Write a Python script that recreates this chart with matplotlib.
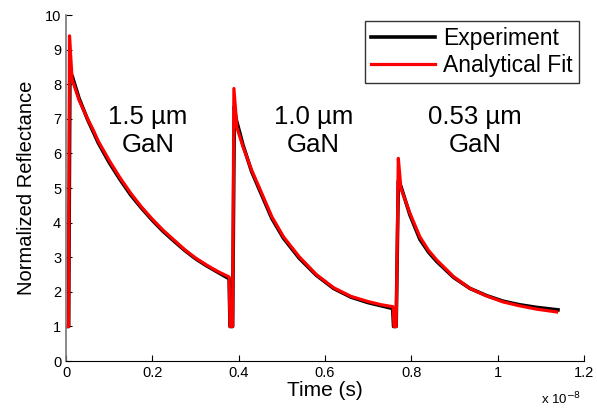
import matplotlib
matplotlib.use("Agg")
import matplotlib.pyplot as plt

plt.rcParams["font.family"] = ["Liberation Sans", "DejaVu Sans"]

# time in units of 1e-8 s
EXP_T = [0.003, 0.006, 0.009, 0.014, 0.03, 0.05, 0.075, 0.1, 0.125, 0.15, 0.175,
         0.2, 0.225, 0.25, 0.275, 0.3, 0.325, 0.35, 0.378, 0.380, 0.386,
         0.390, 0.394, 0.41, 0.43, 0.45, 0.477, 0.504, 0.54, 0.58, 0.62, 0.66,
         0.70, 0.73, 0.757, 0.759, 0.765,
         0.770, 0.776, 0.797, 0.82, 0.84, 0.859, 0.898, 0.936, 0.975, 1.013,
         1.05, 1.091, 1.14]
EXP_R = [1.0, 1.0, 8.3, 8.25, 7.6, 6.98, 6.3, 5.74, 5.25, 4.8, 4.42,
         4.07, 3.75, 3.47, 3.2, 2.96, 2.76, 2.58, 2.38, 1.0, 1.0,
         7.35, 7.0, 6.25, 5.48, 4.9, 4.12, 3.55, 2.98, 2.48, 2.1, 1.85,
         1.69, 1.6, 1.52, 1.0, 1.0,
         5.2, 5.05, 4.22, 3.52, 3.15, 2.88, 2.42, 2.1, 1.89, 1.73,
         1.63, 1.55, 1.48]

FIT_T = [0.003, 0.006, 0.008, 0.014, 0.03, 0.05, 0.063, 0.075, 0.1, 0.125, 0.15,
         0.175, 0.2, 0.225, 0.25, 0.275, 0.3, 0.325, 0.35, 0.378, 0.380, 0.386,
         0.389, 0.396, 0.41, 0.43, 0.45, 0.477, 0.504, 0.54, 0.58, 0.62, 0.66,
         0.70, 0.73, 0.758, 0.760, 0.765, 0.767,
         0.770, 0.776, 0.797, 0.82, 0.84, 0.859, 0.898, 0.936, 0.975, 1.013,
         1.05, 1.091, 1.137]
FIT_R = [1.0, 1.0, 9.4, 8.15, 7.55, 7.0, 6.68, 6.35, 5.8, 5.3, 4.85,
         4.45, 4.1, 3.78, 3.5, 3.22, 2.98, 2.78, 2.6, 2.43, 1.0, 1.0,
         7.88, 6.75, 6.2, 5.52, 4.95, 4.17, 3.59, 3.02, 2.5, 2.12, 1.87,
         1.72, 1.63, 1.57, 1.0, 1.0, 2.8,
         5.86, 5.0, 4.27, 3.59, 3.2, 2.92, 2.44, 2.1, 1.88, 1.71,
         1.6, 1.5, 1.42]

LABELS = ["1.5 \u00b5m\nGaN", "1.0 \u00b5m\nGaN", "0.53 \u00b5m\nGaN"]
LABEL_X = [0.19, 0.573, 0.948]
LABEL_Y = [6.65, 6.65, 6.65]

fig = plt.figure(figsize=(5.97, 4.08), dpi=100)
ax = fig.add_axes([0.1106, 0.115, 0.8674, 0.848])

ax.plot(EXP_T, EXP_R, color="black", linewidth=2.6, label="Experiment")
ax.plot(FIT_T, FIT_R, color="#ff0000", linewidth=2.3, label="Analytical Fit")

for lab, x, y in zip(LABELS, LABEL_X, LABEL_Y):
    ax.text(x, y, lab, ha="center", va="center", fontsize=18.5, linespacing=1.2)

ax.set_xlim(0, 1.2)
ax.set_ylim(0, 10)
ax.set_xticks([0, 0.2, 0.4, 0.6, 0.8, 1.0, 1.2])
ax.set_xticklabels(["0", "0.2", "0.4", "0.6", "0.8", "1", "1.2"])
ax.set_yticks(range(11))
ax.tick_params(direction="in", length=4, labelsize=10.5, width=0.8)
ax.spines["top"].set_visible(False)
ax.spines["right"].set_visible(False)
ax.spines["left"].set_color("#777777")
ax.spines["left"].set_linewidth(1.2)

ax.set_xlabel("Time (s)", fontsize=15, labelpad=1)
ax.set_ylabel("Normalized Reflectance", fontsize=14.5, labelpad=6)
ax.text(0.995, -0.085, "x 10$^{-8}$", transform=ax.transAxes,
        ha="right", va="top", fontsize=9.5)

leg = ax.legend(loc="upper right", bbox_to_anchor=(0.99, 0.983), fontsize=16.5,
                frameon=True, fancybox=False, edgecolor="black",
                handlelength=2.8, handletextpad=0.35, borderpad=0.25,
                labelspacing=0.2, borderaxespad=0.0)
leg.get_frame().set_linewidth(1.0)

fig.savefig("out.png", dpi=100)
